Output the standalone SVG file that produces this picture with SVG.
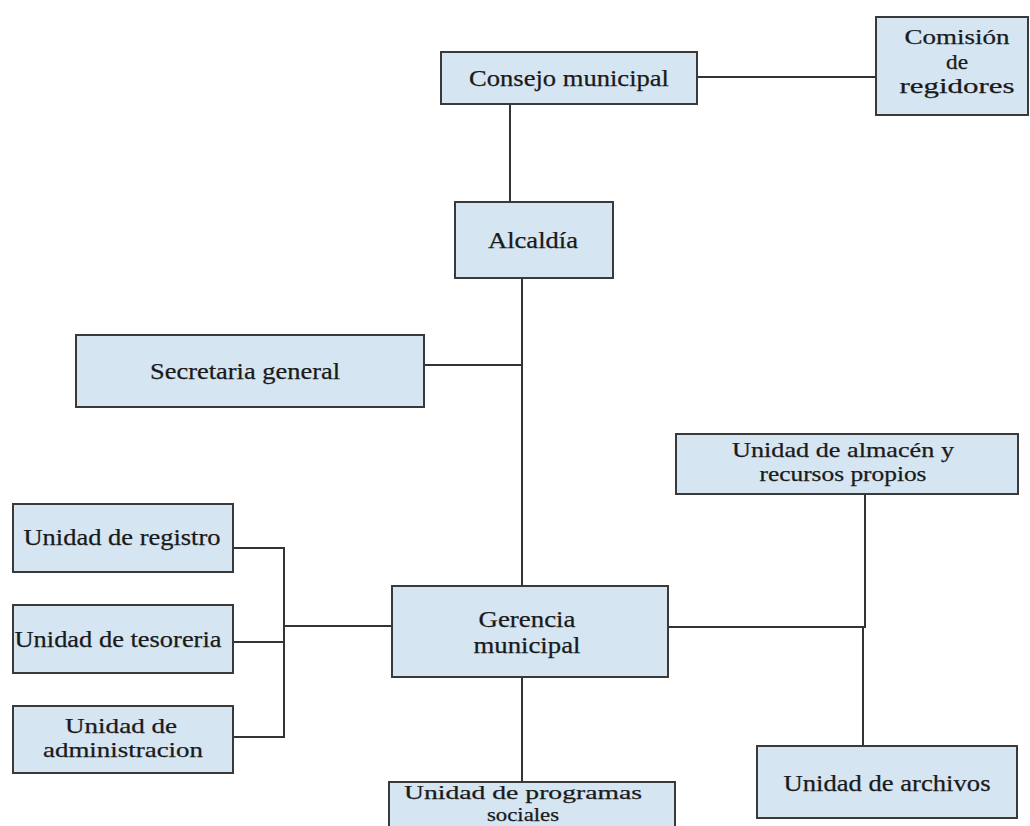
<svg xmlns="http://www.w3.org/2000/svg" width="1030" height="826" viewBox="0 0 1030 826">
<style>
.box{fill:#d5e5f2;stroke:#3a3a3a;stroke-width:2}
.t{font-family:"Liberation Serif","Times New Roman",serif;font-size:23px;fill:#1a1a1a;text-anchor:middle;stroke:#1a1a1a;stroke-width:0.25}
.s{font-size:21px}
.xs{font-size:19px}
.c{stroke:#333;stroke-width:2;fill:none}
</style>
<rect width="1030" height="826" fill="#ffffff"/>
<g id="connectors">
<line class="c" x1="697" y1="77" x2="876" y2="77"/>
<line class="c" x1="510" y1="104" x2="510" y2="202"/>
<line class="c" x1="522" y1="278" x2="522" y2="586"/>
<line class="c" x1="424" y1="365" x2="522" y2="365"/>
<line class="c" x1="284" y1="547" x2="284" y2="738"/>
<line class="c" x1="233" y1="548" x2="285" y2="548"/>
<line class="c" x1="233" y1="642" x2="285" y2="642"/>
<line class="c" x1="233" y1="737" x2="285" y2="737"/>
<line class="c" x1="284" y1="626" x2="392" y2="626"/>
<line class="c" x1="522" y1="677" x2="522" y2="782"/>
<line class="c" x1="668" y1="627" x2="866" y2="627"/>
<line class="c" x1="865" y1="494" x2="865" y2="627"/>
<line class="c" x1="863" y1="627" x2="863" y2="746"/>
</g>
<g id="consejo">
<rect class="box" x="441" y="52" width="256" height="52"/>
<text class="t" x="569" y="86" textLength="200" lengthAdjust="spacingAndGlyphs">Consejo municipal</text>
</g>
<g id="comision">
<rect class="box" x="876" y="17" width="152" height="98"/>
<text class="t s" x="957" y="44" textLength="105" lengthAdjust="spacingAndGlyphs">Comisión</text>
<text class="t s" x="957" y="69" textLength="22" lengthAdjust="spacingAndGlyphs">de</text>
<text class="t s" x="957" y="93" textLength="115" lengthAdjust="spacingAndGlyphs">regidores</text>
</g>
<g id="alcaldia">
<rect class="box" x="455" y="202" width="158" height="76"/>
<text class="t" x="533" y="248" textLength="90" lengthAdjust="spacingAndGlyphs">Alcaldía</text>
</g>
<g id="secretaria">
<rect class="box" x="76" y="335" width="348" height="72"/>
<text class="t" x="245" y="379" textLength="190" lengthAdjust="spacingAndGlyphs">Secretaria general</text>
</g>
<g id="registro">
<rect class="box" x="13" y="504" width="220" height="68"/>
<text class="t" x="122" y="545" textLength="197" lengthAdjust="spacingAndGlyphs">Unidad de registro</text>
</g>
<g id="tesoreria">
<rect class="box" x="13" y="605" width="220" height="68"/>
<text class="t" x="118" y="647" textLength="207" lengthAdjust="spacingAndGlyphs">Unidad de tesoreria</text>
</g>
<g id="administracion">
<rect class="box" x="13" y="706" width="220" height="67"/>
<text class="t s" x="121" y="733" textLength="112" lengthAdjust="spacingAndGlyphs">Unidad de</text>
<text class="t s" x="123" y="757" textLength="160" lengthAdjust="spacingAndGlyphs">administracion</text>
</g>
<g id="gerencia">
<rect class="box" x="392" y="586" width="276" height="91"/>
<text class="t" x="527" y="627" textLength="97" lengthAdjust="spacingAndGlyphs">Gerencia</text>
<text class="t" x="527" y="653" textLength="107" lengthAdjust="spacingAndGlyphs">municipal</text>
</g>
<g id="almacen">
<rect class="box" x="676" y="434" width="342" height="60"/>
<text class="t s" x="843" y="457" textLength="222" lengthAdjust="spacingAndGlyphs">Unidad de almacén y</text>
<text class="t s" x="843" y="481" textLength="167" lengthAdjust="spacingAndGlyphs">recursos propios</text>
</g>
<g id="archivos">
<rect class="box" x="757" y="746" width="260" height="72"/>
<text class="t" x="887" y="791" textLength="207" lengthAdjust="spacingAndGlyphs">Unidad de archivos</text>
</g>
<g id="programas">
<rect class="box" x="389" y="782" width="286" height="60"/>
<text class="t xs" x="523" y="799" textLength="238" lengthAdjust="spacingAndGlyphs">Unidad de programas</text>
<text class="t xs" x="523" y="821" textLength="72" lengthAdjust="spacingAndGlyphs">sociales</text>
</g>
</svg>
